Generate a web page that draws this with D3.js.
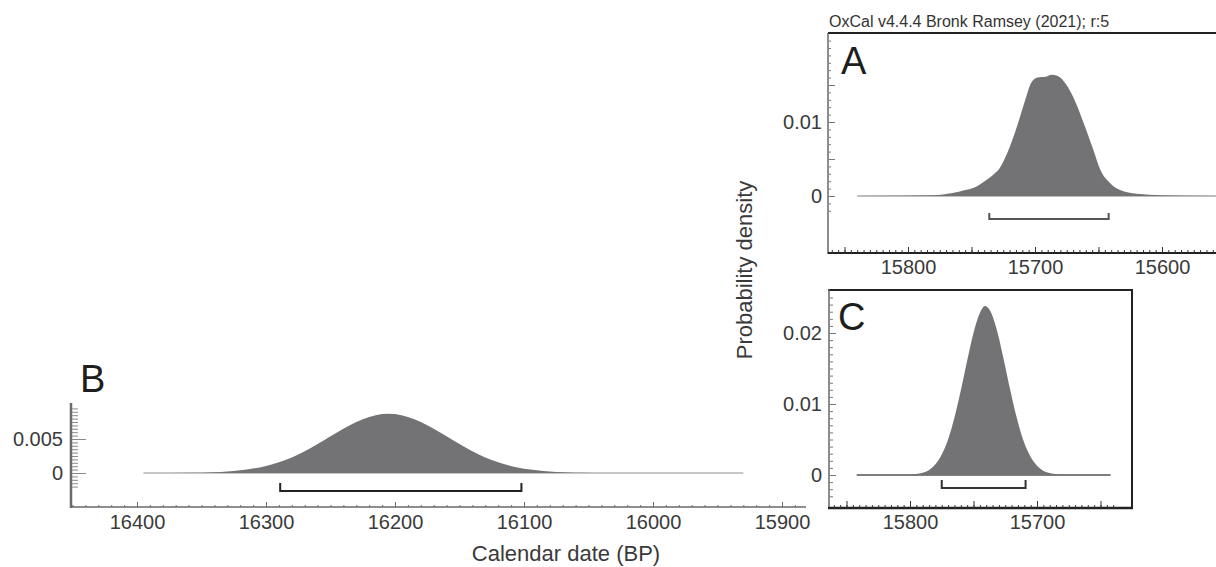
<!DOCTYPE html>
<html lang="en">
<head>
    <meta charset="UTF-8">
    <title>OxCal probability densities</title>
    <script src="https://d3js.org/d3.v7.min.js"></script>
    <style>
        body {
            margin: 0;
            background: #fff;
            font-family: "Liberation Sans", Arial, sans-serif;
        }
        svg text {
            font-family: "Liberation Sans", Arial, sans-serif;
        }
    </style>
</head>
<body>
    <svg id="chart" width="1216" height="567"></svg>

    <script>
        // Panel B - calendar years BP and probability density
        const yearsB = [16395, 16355, 16345, 16335, 16325, 16315, 16305, 16295, 16285, 16275, 16265, 16255,
            16245, 16235, 16225, 16215, 16205, 16195, 16185, 16175, 16165, 16155, 16145, 16135, 16125,
            16115, 16105, 16095, 16085, 16075, 16065, 16055, 16035, 15930];
        const densB = [0, 0.00004, 0.00008, 0.00016, 0.00029, 0.0005, 0.00082, 0.00128, 0.00192, 0.00273, 0.00372, 0.00482,
            0.00596, 0.00703, 0.00792, 0.0085, 0.0087, 0.0085, 0.00792, 0.00703, 0.00596, 0.00482, 0.00372, 0.00273, 0.00192,
            0.00128, 0.00082, 0.0005, 0.00029, 0.00016, 0.00008, 0.00004, 0.00001, 0];
        const rangeB = [16289, 16102];

        // Panel A
        const yearsA = [15840, 15780, 15765, 15755, 15746, 15738, 15732, 15728, 15724, 15720, 15714, 15708, 15703,
            15698, 15692, 15687, 15682, 15676, 15670, 15662, 15654, 15649, 15640, 15633, 15620, 15600, 15557];
        const densA = [0, 0.0001, 0.0004, 0.0008, 0.0013, 0.0022, 0.003, 0.0037, 0.005, 0.0066, 0.0095, 0.0128, 0.0153,
            0.016, 0.0161, 0.0164, 0.0162, 0.0152, 0.0134, 0.01, 0.0062, 0.0037, 0.0016, 0.0008, 0.0003, 0.0001, 0];
        const rangeA = [15736, 15642];

        // Panel C
        const yearsC = [15842, 15800, 15790, 15785, 15780, 15775, 15770, 15765, 15760, 15755, 15750, 15745, 15741,
            15736, 15731, 15726, 15721, 15716, 15711, 15706, 15701, 15696, 15691, 15681, 15642];
        const densC = [0, 0.00005, 0.0003, 0.0007, 0.0015, 0.0029, 0.005, 0.0081, 0.0119, 0.0161, 0.02, 0.0228, 0.0238,
            0.0228, 0.02, 0.0161, 0.0119, 0.0081, 0.005, 0.0029, 0.0015, 0.0007, 0.0003, 0.00005, 0];
        const rangeC = [15775, 15709];

        // tick labels
        const ticksBx = [16400, 16300, 16200, 16100, 16000, 15900];
        const ticksBy = [0, 0.005];
        const ticksAx = [15800, 15700, 15600];
        const ticksAy = [0, 0.01];
        const ticksCx = [15800, 15700];
        const ticksCy = [0, 0.01, 0.02];

        const fillColor = "#737375";
        const labelColor = "#3a3a3a";

        const svg = d3.select("#chart");

        const xB = d3.scaleLinear().domain([16400, 15900]).range([137, 782]);
        const yB = d3.scaleLinear().domain([0, 0.005]).range([473, 439]);
        const xA = d3.scaleLinear().domain([15800, 15600]).range([908, 1162]);
        const yA = d3.scaleLinear().domain([0, 0.01]).range([196, 122]);
        const xC = d3.scaleLinear().domain([15800, 15700]).range([910, 1037]);
        const yC = d3.scaleLinear().domain([0, 0.02]).range([475, 333]);

        const fmtY = d => d === 0 ? "0" : String(d);

        function styleAxis(g, color) {
            g.select(".domain").remove();
            g.selectAll(".tick line").attr("stroke", color);
            g.selectAll(".tick text")
                .attr("fill", labelColor)
                .style("font-size", "20px");
        }

        // x axis: ticks pointing up, labels below
        function xAxis(x, yPos, major, minor, labels, color, majorLen, minorLen, pad) {
            svg.append("g")
                .attr("transform", `translate(0,${yPos})`)
                .call(d3.axisBottom(x).tickValues(minor).tickSize(-minorLen).tickFormat(""))
                .call(g => styleAxis(g, color));
            svg.append("g")
                .attr("transform", `translate(0,${yPos})`)
                .call(d3.axisBottom(x).tickValues(major).tickSize(-majorLen).tickFormat(""))
                .call(g => styleAxis(g, color));
            svg.append("g")
                .attr("transform", `translate(0,${yPos})`)
                .call(d3.axisBottom(x).tickValues(labels).tickSize(0).tickPadding(pad).tickFormat(d3.format("d")))
                .call(g => styleAxis(g, color));
        }

        // y axis: ticks pointing right, labels left
        function yAxis(y, xPos, major, minor, labels, color, majorLen, minorLen, pad) {
            svg.append("g")
                .attr("transform", `translate(${xPos},0)`)
                .call(d3.axisLeft(y).tickValues(minor).tickSize(-minorLen).tickFormat(""))
                .call(g => styleAxis(g, color));
            svg.append("g")
                .attr("transform", `translate(${xPos},0)`)
                .call(d3.axisLeft(y).tickValues(major).tickSize(-majorLen).tickFormat(""))
                .call(g => styleAxis(g, color));
            svg.append("g")
                .attr("transform", `translate(${xPos},0)`)
                .call(d3.axisLeft(y).tickValues(labels).tickSize(0).tickPadding(pad).tickFormat(fmtY))
                .call(g => styleAxis(g, color));
        }

        function density(x, y, years, dens, baseColor) {
            const pts = years.map((yr, i) => ({ yr: yr, d: dens[i] }));
            svg.append("line")
                .attr("x1", x(years[0])).attr("x2", x(years[years.length - 1]))
                .attr("y1", y(0)).attr("y2", y(0))
                .attr("stroke", baseColor)
                .attr("stroke-width", 1.5);
            svg.append("path")
                .datum(pts)
                .attr("fill", fillColor)
                .attr("d", d3.area()
                    .x(d => x(d.yr))
                    .y0(y(0))
                    .y1(d => y(d.d))
                    .curve(d3.curveMonotoneX));
        }

        function bracket(x, yPos, range, color, h) {
            svg.append("path")
                .attr("fill", "none")
                .attr("stroke", color)
                .attr("stroke-width", 2)
                .attr("d", `M${x(range[0])},${yPos - h}V${yPos}H${x(range[1])}V${yPos - h}`);
        }

        function panelLetter(txt, px, py) {
            svg.append("text")
                .attr("x", px).attr("y", py)
                .attr("fill", "#1e1e1e")
                .style("font-size", "38px")
                .text(txt);
        }

        // ---------- Panel B ----------
        svg.append("line").attr("x1", 71).attr("x2", 71).attr("y1", 403).attr("y2", 508)
            .attr("stroke", "#6a6a6a").attr("stroke-width", 2.5);
        svg.append("line").attr("x1", 70).attr("x2", 806).attr("y1", 507).attr("y2", 507)
            .attr("stroke", "#6a6a6a").attr("stroke-width", 1.5);
        xAxis(xB, 507, ticksBx, d3.range(15890, 16451, 10), ticksBx, "#6a6a6a", 5, 2, 8);
        yAxis(yB, 72, ticksBy, d3.range(-0.002, 0.0096, 0.0005), ticksBy, "#8a8a8a", 14, 6, 9);
        density(xB, yB, yearsB, densB, "#b5b5b5");
        bracket(xB, 491, rangeB, "#222", 8);
        panelLetter("B", 80, 392);

        svg.append("text")
            .attr("x", 566).attr("y", 561)
            .attr("text-anchor", "middle")
            .attr("fill", labelColor)
            .style("font-size", "22px")
            .text("Calendar date (BP)");

        // ---------- Panel A ----------
        svg.append("text")
            .attr("x", 829).attr("y", 27)
            .attr("fill", "#333")
            .style("font-size", "16px")
            .text("OxCal v4.4.4 Bronk Ramsey (2021); r:5");
        svg.append("line").attr("x1", 828).attr("x2", 1216).attr("y1", 33).attr("y2", 33)
            .attr("stroke", "#222").attr("stroke-width", 2);
        svg.append("line").attr("x1", 828).attr("x2", 828).attr("y1", 33).attr("y2", 254)
            .attr("stroke", "#666").attr("stroke-width", 1.5);
        svg.append("line").attr("x1", 828).attr("x2", 1216).attr("y1", 253).attr("y2", 253)
            .attr("stroke", "#222").attr("stroke-width", 2);
        xAxis(xA, 253, d3.range(15550, 15851, 50), d3.range(15545, 15861, 5), ticksAx, "#333", 6, 3, 7);
        yAxis(yA, 829, [0, 0.005, 0.01, 0.015], d3.range(-0.002, 0.0215, 0.001), ticksAy, "#777", 6, 2, 7);
        density(xA, yA, yearsA, densA, "#a8a8a8");
        bracket(xA, 219, rangeA, "#555", 6);
        panelLetter("A", 841, 74);

        // ---------- Panel C ----------
        svg.append("line").attr("x1", 828).attr("x2", 1133).attr("y1", 290).attr("y2", 290)
            .attr("stroke", "#222").attr("stroke-width", 2);
        svg.append("line").attr("x1", 1132).attr("x2", 1132).attr("y1", 289).attr("y2", 509)
            .attr("stroke", "#222").attr("stroke-width", 2);
        svg.append("line").attr("x1", 829).attr("x2", 829).attr("y1", 289).attr("y2", 509)
            .attr("stroke", "#666").attr("stroke-width", 1.5);
        svg.append("line").attr("x1", 828).attr("x2", 1133).attr("y1", 508).attr("y2", 508)
            .attr("stroke", "#222").attr("stroke-width", 2.5);
        xAxis(xC, 508, d3.range(15650, 15851, 50), d3.range(15640, 15861, 5), ticksCx, "#333", 7, 3, 7);
        yAxis(yC, 830, ticksCy, d3.range(-0.003, 0.0255, 0.001), ticksCy, "#777", 6, 3, 8);
        density(xC, yC, yearsC, densC, "#555");
        bracket(xC, 488, rangeC, "#333", 8);
        panelLetter("C", 838, 330);

        // shared y title
        svg.append("text")
            .attr("transform", "translate(752,270) rotate(-90)")
            .attr("text-anchor", "middle")
            .attr("fill", labelColor)
            .style("font-size", "22px")
            .text("Probability density");
    </script>
</body>
</html>
